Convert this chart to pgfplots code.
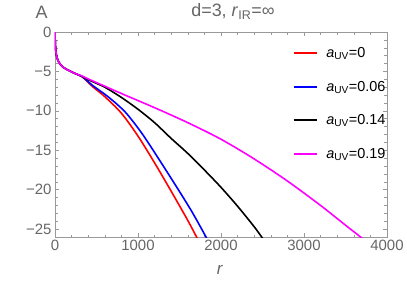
\documentclass[border=0pt]{standalone}
\usepackage{fontspec}
\setmainfont{Liberation Sans}
\usepackage{pgfplots}
\pgfplotsset{compat=1.18}
\definecolor{tickgray}{gray}{0.4}
\definecolor{framegray}{gray}{0.6}
\definecolor{cred}{rgb}{1,0,0}
\definecolor{cblue}{rgb}{0,0,1}
\definecolor{cblack}{rgb}{0,0,0}
\definecolor{cmag}{rgb}{1,0,1}
\begin{document}
\begin{tikzpicture}
\begin{axis}[
  at={(0,0)}, anchor=south west,
  scale only axis, width=332bp, height=205bp,
  xmin=0, xmax=4000, ymin=-26, ymax=0,
  xtick={0,1000,2000,3000,4000},
  xticklabels={0,1000,2000,3000,4000},
  ytick={-25,-20,-15,-10,-5,0},
  yticklabels={−25,−20,−15,−10,−5,0},
  minor x tick num=4, minor y tick num=4,
  major tick length=4bp, minor tick length=2.5bp,
  axis line style={framegray, line width=0.6pt},
  every tick/.style={framegray, line width=0.5pt},
  tick label style={font=\fontsize{15}{17}\selectfont, text=tickgray},
  /pgf/number format/assume math mode=true,
  title={d=3, \textit{r}\textsubscript{IR}=∞},
  title style={font=\fontsize{18}{20}\selectfont, text=tickgray, at={(axis description cs:0.536,1)}, anchor=south, yshift=3bp},
  xlabel={\textit{r}},
  xlabel style={font=\fontsize{17}{19}\selectfont, text=tickgray, at={(axis description cs:0.497,-0.161)}, anchor=center},
  ylabel={A},
  ylabel style={rotate=-90, font=\fontsize{18}{20}\selectfont, text=tickgray, at={(axis description cs:-0.04,1.098)}, anchor=center},
  legend style={draw=none, fill=none, at={(axis description cs:0.715,0.935)}, anchor=north west,
    font=\fontsize{14.5}{16}\selectfont, row sep=18bp, inner sep=0pt},
  legend cell align=left,
  legend image code/.code={\draw[#1, line width=2bp] (0bp,0bp) -- (23bp,0bp); \path (30bp,0bp);},
  clip=true,
]
\addplot[color=cred, line width=1.6pt, smooth] coordinates {
 (0,0) (3,-1.2) (8,-2.2) (20,-3.1) (45,-3.8) (90,-4.4) (160,-4.85) (250,-5.3) (330,-5.7)
 (450,-6.9) (600,-8.2) (800,-10.3) (1000,-13.2) (1200,-16.6) (1400,-20.2) (1600,-23.9) (1720,-26.3)};
\addlegendentry{\textit{a}\textsubscript{UV}=0}
\addplot[color=cblue, line width=1.6pt, smooth] coordinates {
 (0,0) (3,-1.2) (8,-2.2) (20,-3.1) (45,-3.8) (90,-4.4) (160,-4.85) (250,-5.3) (330,-5.68)
 (450,-6.75) (650,-8.3) (850,-10.2) (1050,-12.9) (1250,-16.1) (1450,-19.4) (1650,-22.8) (1830,-26.2)};
\addlegendentry{\textit{a}\textsubscript{UV}=0.06}
\addplot[color=cblack, line width=1.6pt, smooth] coordinates {
 (0,0) (3,-1.2) (8,-2.2) (20,-3.1) (45,-3.8) (90,-4.4) (160,-4.85) (250,-5.3) (330,-5.65)
 (400,-6.05) (600,-7.0) (800,-8.3) (1000,-9.8) (1200,-11.5) (1400,-13.5) (1600,-15.4) (1800,-17.5) (2000,-19.7) (2200,-22.1) (2400,-24.7) (2510,-26.3)};
\addlegendentry{\textit{a}\textsubscript{UV}=0.14}
\addplot[color=cmag, line width=1.6pt, smooth] coordinates {
 (0,0) (3,-1.2) (8,-2.2) (20,-3.1) (45,-3.8) (90,-4.4) (160,-4.85) (250,-5.3) (330,-5.6)
 (400,-5.95) (800,-7.8) (1200,-9.6) (1600,-11.5) (2000,-13.6) (2400,-16.1) (2800,-18.9) (3200,-22.0) (3500,-24.5) (3730,-26.4)};
\addlegendentry{\textit{a}\textsubscript{UV}=0.19}
\end{axis}
\path[use as bounding box] (-55bp,-48bp) rectangle (352bp,237bp);
\end{tikzpicture}
\end{document}
